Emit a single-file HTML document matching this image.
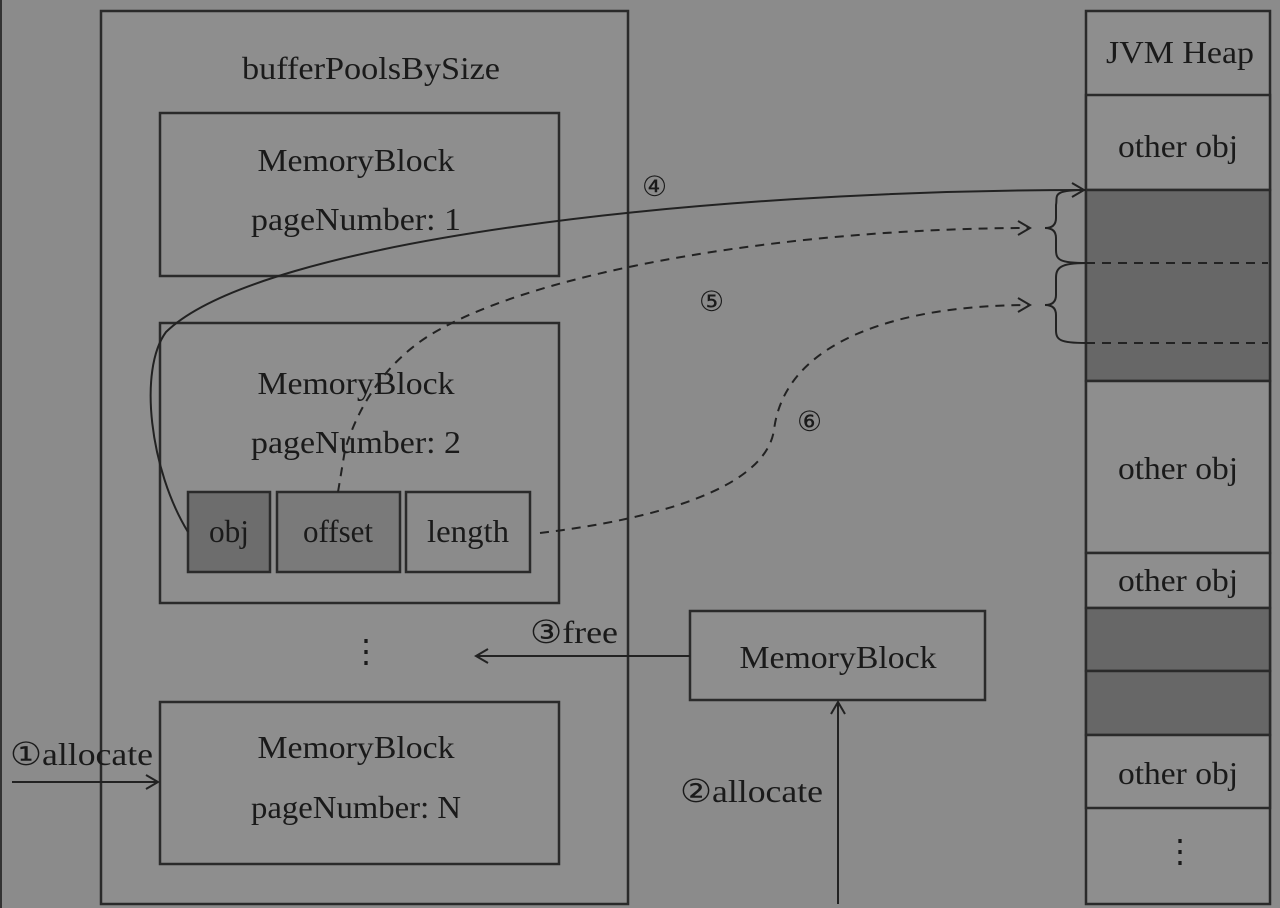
<!DOCTYPE html>
<html><head><meta charset="utf-8"><style>
html,body{margin:0;padding:0;background:#8b8b8b;}
svg{display:block}
text{font-family:"Liberation Serif",serif;font-size:32px;fill:#1a1a1a;}
.c{font-family:"DejaVu Sans",sans-serif;font-size:28px;}
</style></head><body>
<svg width="1280" height="908" viewBox="0 0 1280 908" xmlns="http://www.w3.org/2000/svg">
<defs>
<marker id="ar" markerWidth="16" markerHeight="16" refX="14" refY="8" orient="auto" markerUnits="userSpaceOnUse">
<path d="M2,1 L14,8 L2,15" fill="none" stroke="#222" stroke-width="2"/>
</marker>
</defs>
<rect width="1280" height="908" fill="#8b8b8b"/>
<line x1="1" y1="0" x2="1" y2="908" stroke="#333" stroke-width="2"/>
<g stroke="#2a2a2a" stroke-width="2.5" fill="#8e8e8e">
<rect x="101" y="11" width="527" height="893"/>
<rect x="160" y="113" width="399" height="163"/>
<rect x="160" y="323" width="399" height="280"/>
<rect x="160" y="702" width="399" height="162"/>
<rect x="188" y="492" width="82" height="80" fill="#6d6d6d"/>
<rect x="277" y="492" width="123" height="80" fill="#7a7a7a"/>
<rect x="406" y="492" width="124" height="80" fill="#8b8b8b"/>
<rect x="690" y="611" width="295" height="89"/>
<rect x="1086" y="11" width="184" height="893"/>
<rect x="1086" y="95" width="184" height="95"/>
<rect x="1086" y="190" width="184" height="191" fill="#676767"/>
<rect x="1086" y="381" width="184" height="172"/>
<rect x="1086" y="553" width="184" height="55"/>
<rect x="1086" y="608" width="184" height="63" fill="#676767"/>
<rect x="1086" y="671" width="184" height="64" fill="#676767"/>
<rect x="1086" y="735" width="184" height="73"/>
</g>
<g stroke="#222" stroke-width="2" stroke-dasharray="9,7">
<line x1="1086" y1="263" x2="1268" y2="263"/>
<line x1="1086" y1="343" x2="1268" y2="343"/>
</g>
<text x="371" y="79" text-anchor="middle" textLength="258" lengthAdjust="spacingAndGlyphs">bufferPoolsBySize</text>
<text x="356" y="171" text-anchor="middle" textLength="197" lengthAdjust="spacingAndGlyphs">MemoryBlock</text>
<text x="356" y="230" text-anchor="middle" textLength="210" lengthAdjust="spacingAndGlyphs">pageNumber: 1</text>
<text x="356" y="394" text-anchor="middle" textLength="197" lengthAdjust="spacingAndGlyphs">MemoryBlock</text>
<text x="356" y="453" text-anchor="middle" textLength="210" lengthAdjust="spacingAndGlyphs">pageNumber: 2</text>
<text x="229" y="542" text-anchor="middle" textLength="40" lengthAdjust="spacingAndGlyphs">obj</text>
<text x="338" y="542" text-anchor="middle" textLength="70" lengthAdjust="spacingAndGlyphs">offset</text>
<text x="468" y="542" text-anchor="middle" textLength="82" lengthAdjust="spacingAndGlyphs">length</text>
<text x="356" y="758" text-anchor="middle" textLength="197" lengthAdjust="spacingAndGlyphs">MemoryBlock</text>
<text x="356" y="818" text-anchor="middle" textLength="210" lengthAdjust="spacingAndGlyphs">pageNumber: N</text>
<text x="838" y="668" text-anchor="middle" textLength="197" lengthAdjust="spacingAndGlyphs">MemoryBlock</text>
<text x="1180" y="63" text-anchor="middle" textLength="148" lengthAdjust="spacingAndGlyphs">JVM Heap</text>
<text x="1178" y="157" text-anchor="middle" textLength="120" lengthAdjust="spacingAndGlyphs">other obj</text>
<text x="1178" y="479" text-anchor="middle" textLength="120" lengthAdjust="spacingAndGlyphs">other obj</text>
<text x="1178" y="591" text-anchor="middle" textLength="120" lengthAdjust="spacingAndGlyphs">other obj</text>
<text x="1178" y="784" text-anchor="middle" textLength="120" lengthAdjust="spacingAndGlyphs">other obj</text>
<text x="1180" y="862" text-anchor="middle">⋮</text>
<text x="366" y="662" text-anchor="middle">⋮</text>
<text x="10" y="765" textLength="143" lengthAdjust="spacingAndGlyphs">①allocate</text>
<text x="530" y="643" textLength="88" lengthAdjust="spacingAndGlyphs">③free</text>
<text x="680" y="802" textLength="143" lengthAdjust="spacingAndGlyphs">②allocate</text>
<text class="c" x="642" y="196">④</text>
<text class="c" x="699" y="311">⑤</text>
<text class="c" x="797" y="431">⑥</text>
<g fill="none" stroke="#222" stroke-width="2">
<line x1="12" y1="782" x2="158" y2="782" marker-end="url(#ar)"/>
<line x1="690" y1="656" x2="476" y2="656" marker-end="url(#ar)"/>
<line x1="838" y1="904" x2="838" y2="702" marker-end="url(#ar)"/>
<path d="M188,532 C150,470 138,370 166,332 C260,240 700,190 1084,190" marker-end="url(#ar)"/>
<path d="M1086,190 C1050,190 1058,196 1056,205 L1056,218 C1056,225 1052,228 1045,228 C1052,228 1056,231 1056,238 L1056,250 C1056,260 1060,263 1086,263"/>
<path d="M1086,263 C1060,263 1056,268 1056,278 L1056,295 C1056,302 1052,305 1045,305 C1052,305 1056,308 1056,315 L1056,330 C1056,340 1060,343 1086,343"/>
</g>
<g fill="none" stroke="#222" stroke-width="2" stroke-dasharray="9,7">
<path d="M338,492 L345,450 C360,400 390,360 430,335 C540,268 800,228 1030,228" marker-end="url(#ar)"/>
<path d="M540,533 C650,520 765,490 774,430 C785,340 900,305 1030,305" marker-end="url(#ar)"/>
</g>
</svg>
</body></html>
